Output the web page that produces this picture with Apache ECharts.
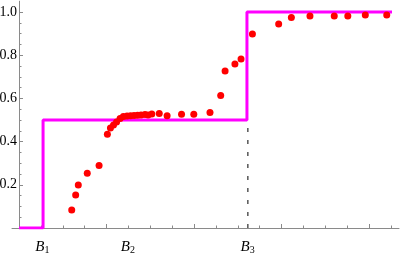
<!DOCTYPE html>
<html>
<head>
<meta charset="utf-8">
<script src="https://cdn.jsdelivr.net/npm/echarts@6/dist/echarts.min.js"></script>
<style>
  html, body { margin: 0; padding: 0; background: #fff; }
  #chart { width: 402px; height: 270px; }
</style>
</head>
<body>
<div id="chart"></div>
<script>
// empirical points (red) and step function (magenta)
var pointX = [2.41, 2.59, 2.71, 3.12, 3.66, 4.04, 4.18, 4.32, 4.46, 4.62, 4.77, 4.94, 5.10, 5.26, 5.42, 5.58,
  5.76, 5.90, 6.07, 6.41, 6.77, 7.43, 7.99, 8.73, 9.22, 9.42, 9.87, 10.15, 10.67, 11.87, 12.45, 13.30,
  14.41, 15.03, 15.83, 16.81]
var pointY = [0.083, 0.153, 0.199, 0.253, 0.289, 0.434, 0.463, 0.477, 0.491, 0.507, 0.516, 0.519, 0.520, 0.521, 0.522, 0.523,
  0.525, 0.523, 0.528, 0.530, 0.520, 0.527, 0.527, 0.535, 0.614, 0.727, 0.759, 0.782, 0.898, 0.944, 0.974, 0.981,
  0.981, 0.981, 0.986, 0.986]

var stepX = [0, 1.1, 1.1, 10.42, 10.42, 17.05]
var stepY = [0, 0, 0.5, 0.5, 1, 1]

var boundaryX = [1.07, 4.98, 10.45]
var boundaryNames = ['1', '2', '3']
var dashX = 10.46
var dashTop = 0.5

var yTickLabels = [0.2, 0.4, 0.6, 0.8, 1.0]
var yMajorTicks = [0, 0.2, 0.4, 0.6, 0.8, 1.0]
var xMajorTicks = [0, 4, 8, 12, 16]

var yMinorTicks = []
for (var i = 1; i <= 20; i++) {
  if (i % 4 !== 0) yMinorTicks.push(+(i * 0.05).toFixed(2))
}
var xMinorTicks = []
for (var k = 1; k <= 17; k++) {
  if (k % 4 !== 0) xMinorTicks.push(k)
}

function zip(a, b) {
  return a.map(function (v, i) { return [v, b[i]] })
}

function boundaryLabel(v) {
  var best = 0
  for (var j = 1; j < boundaryX.length; j++) {
    if (Math.abs(boundaryX[j] - v) < Math.abs(boundaryX[best] - v)) best = j
  }
  return '{b|B}{s|' + boundaryNames[best] + '}'
}

var axisGray = '#8a8a8a'
var serif = 'Liberation Serif'
// x axis line starts a little left of x = 0; y axis sits at x = 0
var yShift = -7

var chart = echarts.init(document.getElementById('chart'))
var option = {
  animation: false,
  grid: { left: 12, right: 3, top: 1.2, bottom: 42, containLabel: false, outerBoundsMode: 'none' },
  xAxis: [
    {
      type: 'value', min: -0.32, max: 17.37,
      splitLine: { show: false },
      axisLine: { onZero: false, lineStyle: { color: axisGray, width: 1 } },
      axisTick: { inside: true, length: 4, customValues: xMajorTicks, lineStyle: { color: axisGray } },
      axisLabel: { show: false }
    },
    {
      type: 'value', min: -0.32, max: 17.37, position: 'bottom',
      splitLine: { show: false },
      axisLine: { show: false, onZero: false },
      axisTick: { inside: true, length: 2.5, customValues: xMinorTicks, lineStyle: { color: axisGray } },
      axisLabel: {
        customValues: boundaryX,
        margin: 11,
        formatter: boundaryLabel,
        rich: {
          b: { fontFamily: serif, fontStyle: 'italic', fontSize: 15, color: '#000', lineHeight: 16 },
          s: { fontFamily: serif, fontSize: 10, color: '#000', verticalAlign: 'bottom', lineHeight: 10, padding: [5, 0, 0, 0] }
        }
      }
    }
  ],
  yAxis: [
    {
      type: 'value', min: 0, max: 1.05, offset: yShift,
      splitLine: { show: false },
      axisLine: { onZero: false, lineStyle: { color: axisGray, width: 1 } },
      axisTick: { inside: true, length: 4, customValues: yMajorTicks, lineStyle: { color: axisGray } },
      axisLabel: {
        customValues: yTickLabels,
        margin: 2,
        fontFamily: serif, fontSize: 14, color: '#000',
        formatter: function (v) { return v.toFixed(1) }
      }
    },
    {
      type: 'value', min: 0, max: 1.05, position: 'left', offset: yShift,
      splitLine: { show: false },
      axisLine: { show: false, onZero: false },
      axisTick: { inside: true, length: 2.5, customValues: yMinorTicks, lineStyle: { color: axisGray } },
      axisLabel: { show: false }
    }
  ],
  series: [
    {
      type: 'line',
      data: [[dashX, 0], [dashX, dashTop]],
      symbol: 'none',
      lineStyle: { color: '#555', width: 1.5, type: [4, 8] },
      z: 1
    },
    {
      type: 'line',
      data: zip(stepX, stepY),
      symbol: 'none',
      lineStyle: { color: '#ff00ff', width: 3 },
      z: 2
    },
    {
      type: 'scatter',
      data: zip(pointX, pointY),
      symbolSize: 7,
      itemStyle: { color: '#ff0000', opacity: 1 },
      z: 3
    }
  ]
}
chart.setOption(option)
</script>
</body>
</html>
